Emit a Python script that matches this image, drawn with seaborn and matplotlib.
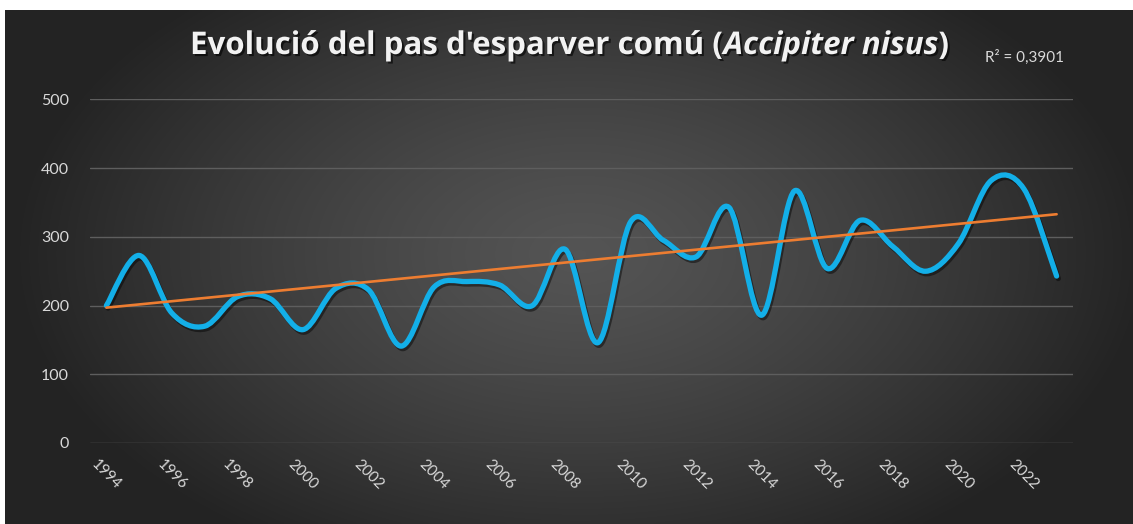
import numpy as np
import matplotlib
matplotlib.use("Agg")
import matplotlib.pyplot as plt
import matplotlib.patheffects as pe
from matplotlib.path import Path
from matplotlib.patches import PathPatch
import seaborn as sns


# values
years = list(range(1994, 2024))
counts = [200, 273, 189, 170, 213, 210, 165, 225, 223, 141,
          227, 235, 230, 200, 282, 146, 322, 295, 271, 343,
          186, 367, 254, 324, 286, 250, 290, 382, 370, 243]
trend_years = [1994, 2023]
trend_values = [197, 333]
year_ticks = list(range(1994, 2024, 2))
y_ticks = [0, 100, 200, 300, 400, 500]

title_main = "Evolució del pas d'esparver comú ("
title_species = "Accipiter nisus"
title_end = ")"
r2_label = "R² = 0,3901"

LINE_BLUE = "#13AFE8"
TREND_ORANGE = "#ED7D31"
TEXT_GREY = "#D9D9D9"

sns.set_theme(style="dark")
plt.rcParams["font.family"] = ["Lato", "DejaVu Sans"]

W, H = 1133, 524
fig = plt.figure(figsize=(W / 100, H / 100), dpi=100, facecolor="white")

# dark radial background (chart area sits inside a thin white margin)
bg = fig.add_axes([5 / W, 0, 1 - 5 / W, (H - 10) / H])
gx, gy = np.meshgrid(np.linspace(-1, 1, 400), np.linspace(-1, 1, 200))
r = np.clip(np.sqrt((gx - 0.02) ** 2 + (0.75 * (gy + 0.05)) ** 2), 0, 1)
centre, edge = np.array([0.33, 0.33, 0.33]), np.array([0.14, 0.14, 0.14])
img = centre + (edge - centre) * r[..., None] ** 1.3
bg.imshow(img, aspect="auto", extent=[0, 1, 0, 1], interpolation="bilinear")
bg.set_axis_off()


def smooth_path(xs, ys):
    # Excel-style smoothed line as cubic Bezier segments through the data
    pts = np.column_stack([xs, ys]).astype(float)
    padded = np.vstack([pts[0], pts, pts[-1]])
    verts, codes = [pts[0]], [Path.MOVETO]
    for i in range(len(pts) - 1):
        p0, p1, p2, p3 = padded[i], padded[i + 1], padded[i + 2], padded[i + 3]
        verts += [p1 + (p2 - p0) / 6, p2 - (p3 - p1) / 6, p2]
        codes += [Path.CURVE4] * 3
    return Path(verts, codes)


ax = fig.add_axes([90 / W, (H - 443) / H, (1073 - 90) / W, (443 - 99.5) / H])
ax.set_facecolor("none")

curve = PathPatch(smooth_path(years, counts), fill=False, edgecolor=LINE_BLUE,
                  linewidth=3.8, capstyle="round", joinstyle="round", zorder=3)
curve.set_path_effects([pe.SimpleLineShadow(offset=(1.2, -1.8), shadow_color="black", alpha=0.45),
                        pe.Normal()])
ax.add_patch(curve)

sns.lineplot(x=trend_years, y=trend_values, color=TREND_ORANGE, linewidth=1.9, ax=ax, zorder=4)

ax.set_xlim(years[0] - 0.5, years[-1] + 0.5)
ax.set_ylim(0, 500)
ax.set_yticks(y_ticks)
ax.set_xticks(year_ticks)
ax.set_xticklabels([str(y) for y in year_ticks], rotation=-45, ha="center", va="top")
ax.tick_params(axis="x", colors=TEXT_GREY, labelsize=11, length=0, pad=10)
ax.tick_params(axis="y", colors=TEXT_GREY, labelsize=11.5, length=0, pad=15)
ax.grid(axis="y", color="#5E5E5E", linewidth=1)
ax.grid(axis="x", visible=False)
for s in ax.spines.values():
    s.set_visible(False)
ax.set(xlabel="", ylabel="")

# title with italic species name
shadow = [pe.withSimplePatchShadow(offset=(1.5, -1.5), shadow_rgbFace="black", alpha=0.6)]
renderer = fig.canvas.get_renderer()
x_px, y_fig = 190, (H - 46) / H
for part, style in [(title_main, "normal"), (title_species, "italic"), (title_end, "normal")]:
    t = fig.text(x_px / W, y_fig, part, fontsize=22.5, fontweight="bold", fontstyle=style,
                 family=["Open Sans", "DejaVu Sans"], color="#F2F2F2", va="center", ha="left",
                 path_effects=shadow)
    x_px = t.get_window_extent(renderer).x1

fig.text(985 / W, (H - 57) / H, r2_label, fontsize=11, color=TEXT_GREY, va="center", ha="left")

fig.savefig("out.png", dpi=100, facecolor="white")
